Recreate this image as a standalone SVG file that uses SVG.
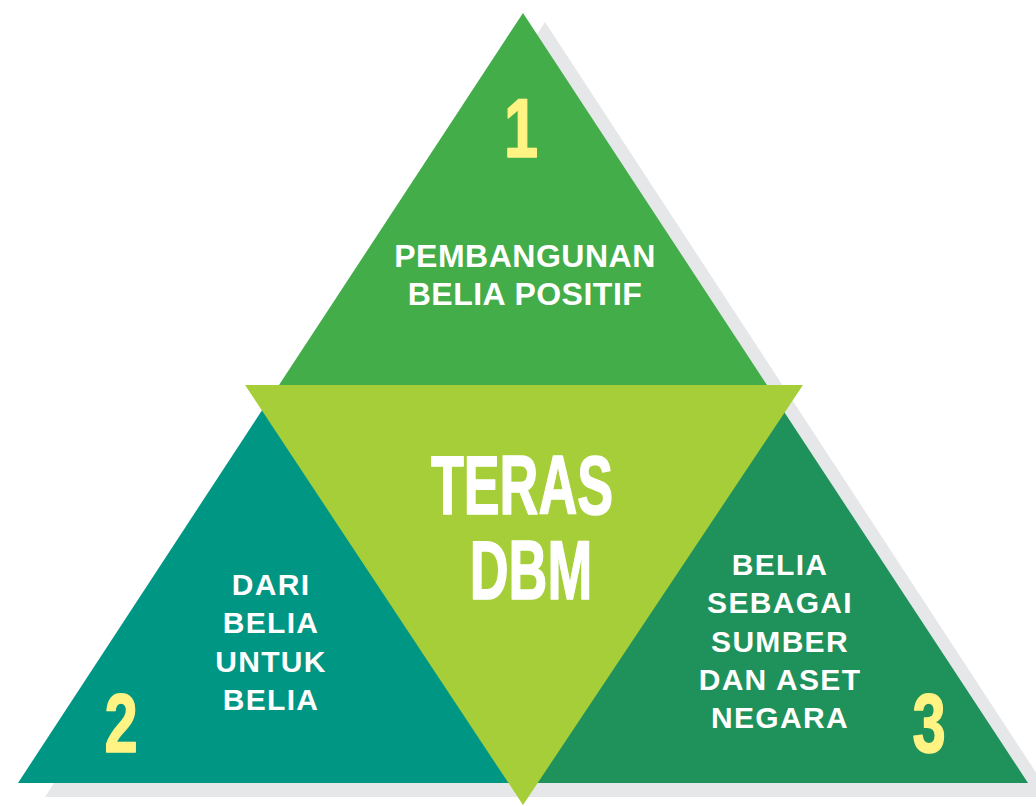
<svg xmlns="http://www.w3.org/2000/svg" width="1036" height="806" viewBox="0 0 1036 806">
<style>
.lbl{font-family:"Liberation Sans",Arial,sans-serif;font-weight:bold;fill:#FFFFFF;text-anchor:middle}
.small{font-size:30px;letter-spacing:1.3px}
.top{font-size:32px;letter-spacing:0.5px}
.big{font-family:"Liberation Sans",Arial,sans-serif;font-weight:bold;fill:#FFFFFF;stroke:#FFFFFF;stroke-width:1.6px;stroke-linejoin:round;font-size:84px;text-anchor:middle}
.num{font-family:"Liberation Sans",Arial,sans-serif;font-weight:bold;fill:#FFF383;stroke:#FFF383;stroke-width:1.6px;stroke-linejoin:round;font-size:83px;text-anchor:middle}
</style>
<rect width="1036" height="806" fill="#FFFFFF"/>
<g id="shadow">
<polygon points="545,22 45,797 1052,797" fill="#E6E7E8"/>
</g>
<g id="node-1">
<polygon points="523,13 279,385 767,385" fill="#43AD4A"/>
<text class="num" transform="translate(521,157) scale(0.74,1)">1</text>
<text class="lbl top" x="525" y="267">PEMBANGUNAN</text>
<text class="lbl top" x="525" y="305">BELIA POSITIF</text>
</g>
<g id="node-2">
<polygon points="270,398 18,783 522,783" fill="#009684"/>
<text class="num" transform="translate(121,752) scale(0.72,1)">2</text>
<text class="lbl small" x="271" y="595">DARI</text>
<text class="lbl small" x="271" y="633">BELIA</text>
<text class="lbl small" x="271" y="672">UNTUK</text>
<text class="lbl small" x="271" y="710">BELIA</text>
</g>
<g id="node-3">
<polygon points="775,398 524,783 1028,783" fill="#1F915A"/>
<text class="num" transform="translate(929,752) scale(0.72,1)">3</text>
<text class="lbl small" x="780" y="575">BELIA</text>
<text class="lbl small" x="780" y="613">SEBAGAI</text>
<text class="lbl small" x="780" y="652">SUMBER</text>
<text class="lbl small" x="780" y="690">DAN ASET</text>
<text class="lbl small" x="780" y="728">NEGARA</text>
</g>
<g id="node-center">
<polygon points="245,385 803,385 523,805" fill="#A6CE39"/>
<text class="big" transform="scale(0.64,1)"><tspan x="815.6" y="514">TERAS</tspan><tspan x="829.7" y="599">DBM</tspan></text>
</g>
</svg>
